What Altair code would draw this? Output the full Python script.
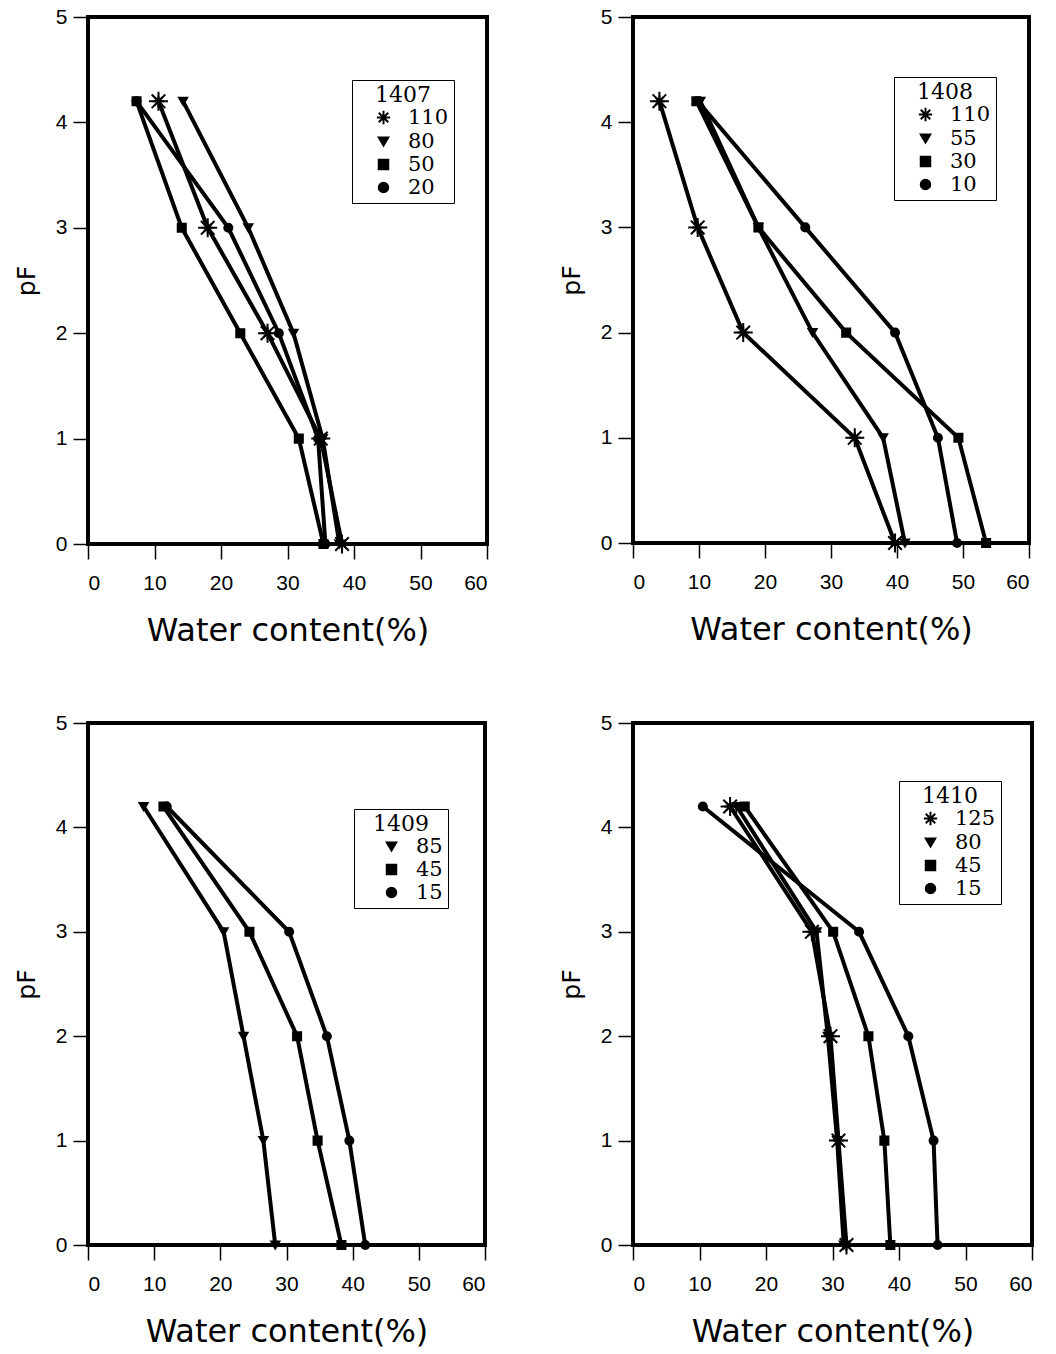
import altair as alt
import pandas as pd

# ---------------- data ----------------
PF = [0, 1, 2, 3, 4.2]
X_TICKS = [0, 10, 20, 30, 40, 50, 60]
Y_TICKS = [0, 1, 2, 3, 4, 5]

# Profile 1407 (depths, cm)
P1407_LABELS = ["110", "80", "50", "20"]
P1407_110 = [38.2, 35.0, 27.0, 18.0, 10.6]
P1407_80 = [37.8, 35.3, 30.9, 24.1, 14.3]
P1407_50 = [35.4, 31.7, 22.9, 14.1, 7.3]
P1407_20 = [35.7, 34.6, 28.7, 21.1, 7.3]

# Profile 1408
P1408_LABELS = ["110", "55", "30", "10"]
P1408_110 = [39.7, 33.6, 16.7, 9.8, 4.0]
P1408_55 = [41.2, 37.9, 27.2, 19.0, 10.2]
P1408_30 = [53.5, 49.3, 32.3, 19.0, 9.6]
P1408_10 = [49.1, 46.2, 39.7, 26.1, 9.8]

# Profile 1409
P1409_LABELS = ["85", "45", "15"]
P1409_85 = [28.3, 26.5, 23.5, 20.5, 8.4]
P1409_45 = [38.3, 34.7, 31.6, 24.4, 11.4]
P1409_15 = [41.9, 39.5, 36.1, 30.4, 11.9]

# Profile 1410
P1410_LABELS = ["125", "80", "45", "15"]
P1410_125 = [32.1, 30.9, 29.7, 26.9, 14.6]
P1410_80 = [31.7, 30.7, 29.3, 27.6, 15.6]
P1410_45 = [38.7, 37.8, 35.4, 30.1, 16.8]
P1410_15 = [45.8, 45.2, 41.4, 34.0, 10.5]

# ---------------- styles ----------------
ASTERISK = "M-1.4,0L1.4,0M0,-1.4L0,1.4M-1,-1L1,1M-1,1L1,-1"
SHAPE = {"ast": ASTERISK, "tri": "triangle-down", "sq": "square", "ci": "circle"}


def panel(title, labels, series, kinds, lx, ly, w, h, soff):
    rows = []
    for lab, vals in zip(labels, series):
        for p, v in zip(PF, vals):
            rows.append({"depth": lab, "pf": p, "wc": v})
    df = pd.DataFrame(rows)
    x = alt.X("wc:Q", scale=alt.Scale(domain=[0, 60], nice=False, zero=False),
              axis=alt.Axis(values=X_TICKS, title="Water content(%)",
                            titlePadding=22, labelPadding=13))
    y = alt.Y("pf:Q", scale=alt.Scale(domain=[0, 5], nice=False),
              axis=alt.Axis(values=Y_TICKS, title="pF", titlePadding=16,
                            labelPadding=6))
    base = alt.Chart(df)
    line = base.mark_line(color="black", strokeWidth=4).encode(
        x=x, y=y, detail="depth:N", order="pf:Q")
    pts = base.mark_point(filled=False, fill="black", stroke="black",
                          strokeWidth=2, opacity=1, size=65).encode(
        x=x, y=y,
        shape=alt.Shape("depth:N",
                        scale=alt.Scale(domain=labels, range=[SHAPE[k] for k in kinds]),
                        legend=alt.Legend(
                            title=title, orient="none", legendX=lx, legendY=ly,
                            strokeColor="black", fillColor="white", padding=5,
                            titleFont="DejaVu Serif", titleFontSize=22,
                            titleFontWeight="normal", titleColor="black",
                            titlePadding=0, titleAnchor="middle",
                            labelFont="DejaVu Serif", labelFontSize=21,
                            labelColor="black", labelOffset=14,
                            symbolSize=90, symbolStrokeWidth=2,
                            rowPadding=1, symbolOffset=soff)),
    )
    layers = [line, pts]
    ast_labels = [lab for lab, k in zip(labels, kinds) if k == "ast"]
    if ast_labels:
        big = base.transform_filter(
            alt.FieldOneOfPredicate(field="depth", oneOf=ast_labels)
        ).mark_point(shape=ASTERISK, filled=False, stroke="black",
                     strokeWidth=2, size=185, opacity=1).encode(x=x, y=y)
        layers.append(big)
    return alt.layer(*layers).properties(width=w, height=h)


p1 = panel("1407", P1407_LABELS, [P1407_110, P1407_80, P1407_50, P1407_20],
           ["ast", "tri", "sq", "ci"], 264, 63, 399, 527, 16)
p2 = panel("1408", P1408_LABELS, [P1408_110, P1408_55, P1408_30, P1408_10],
           ["ast", "tri", "sq", "ci"], 261, 60, 396, 526, 16)
p3 = panel("1409", P1409_LABELS, [P1409_85, P1409_45, P1409_15],
           ["tri", "sq", "ci"], 266, 86, 397, 522, 22)
p4 = panel("1410", P1410_LABELS, [P1410_125, P1410_80, P1410_45, P1410_15],
           ["ast", "tri", "sq", "ci"], 266, 58, 399, 522, 16)

chart = alt.concat(
    p1, p2, p3, p4, columns=2, align="none",
    spacing={"row": 62, "column": 67},
).resolve_scale(shape="independent").resolve_legend(
    shape="independent").properties(
    padding={"left": 12, "top": 4, "right": 5, "bottom": 5},
    background="white",
).configure_view(
    stroke="black", strokeWidth=4
).configure_axis(
    grid=False, domain=False,
    tickColor="black", tickWidth=1.5, tickSize=15,
    labelFont="Liberation Sans", labelFontSize=21, labelColor="black",
    titleFont="DejaVu Sans", titleFontWeight="normal", titleColor="black",
).configure_axisX(
    titleFontSize=32
).configure_axisY(
    titleFontSize=25
)

chart.save("out.html", embed_options={"renderer": "svg", "actions": False})
